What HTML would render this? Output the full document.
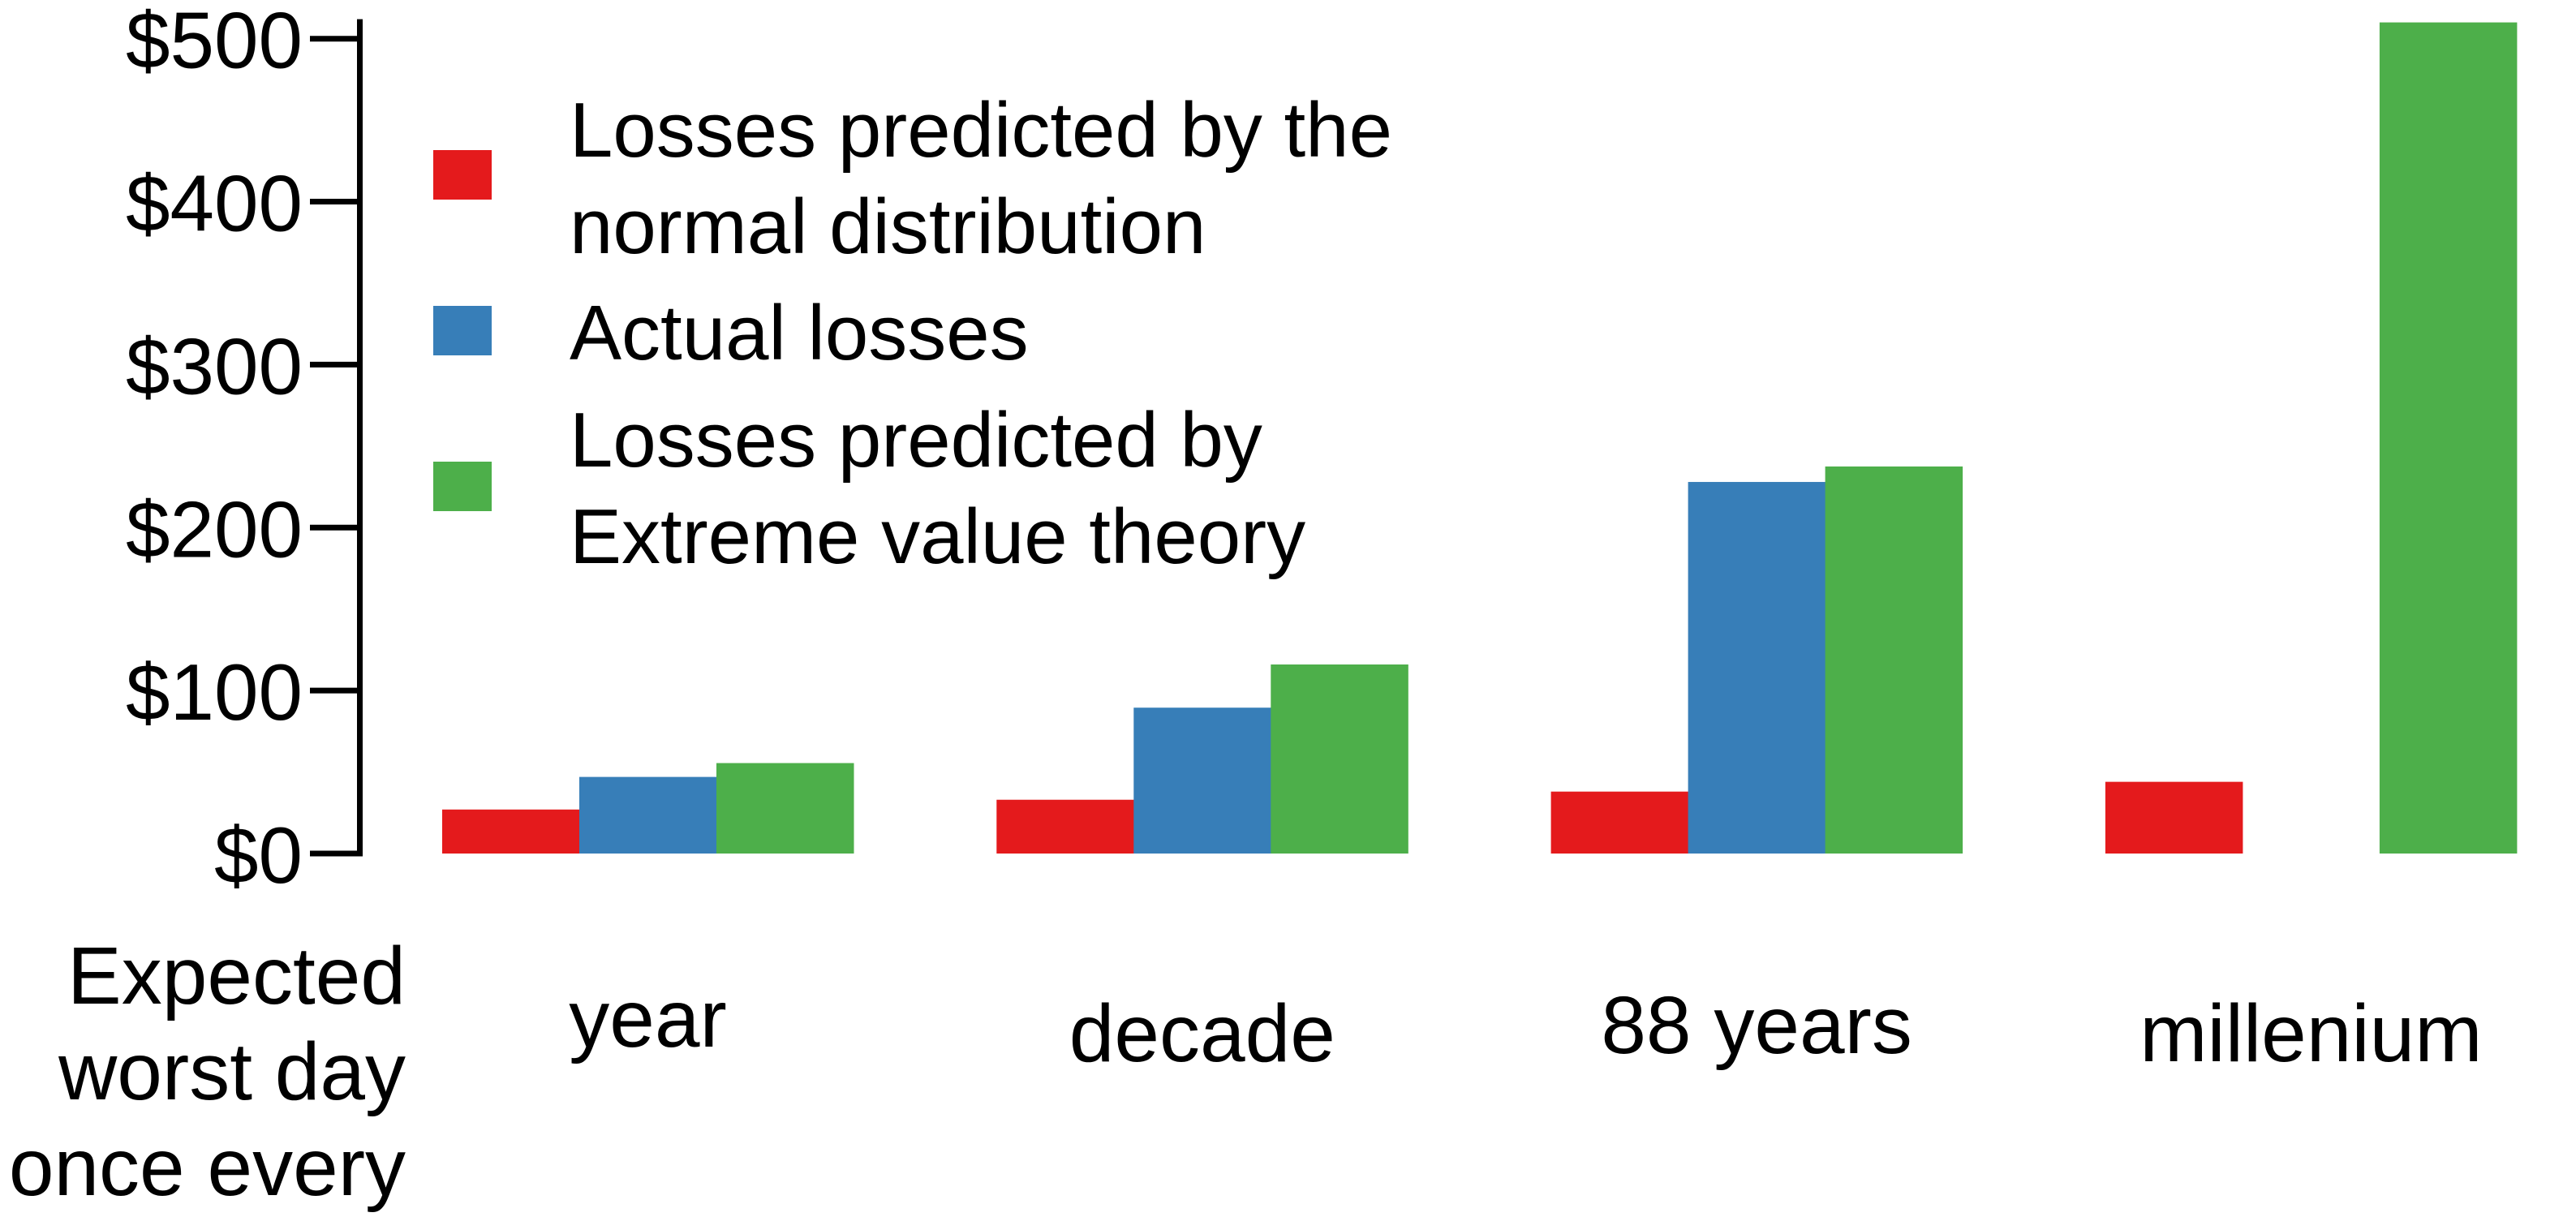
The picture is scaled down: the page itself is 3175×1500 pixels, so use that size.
<!DOCTYPE html>
<html><head><meta charset="utf-8"><style>
html,body{margin:0;padding:0;background:#fff;}
svg{display:block;font-family:"Liberation Sans",Arial,sans-serif;}
</style></head><body>
<svg id="chart" width="3175" height="1500" viewBox="0 0 3175 1500" xmlns="http://www.w3.org/2000/svg">
<g id="yaxis"></g>
<g id="bars"></g>
<g id="xlabels"></g>
<text font-size="100" text-anchor="end" fill="#000">
<tspan x="500" y="1237">Expected</tspan><tspan x="500" y="1355">worst day</tspan><tspan x="500" y="1473">once every</tspan>
</text>
<g>
<rect x="534" y="185" width="72" height="61" fill="#e41a1c"/>
<text font-size="96" fill="#000"><tspan x="702" y="193">Losses predicted by the</tspan><tspan x="702" y="312">normal distribution</tspan></text>
<rect x="534" y="377" width="72" height="61" fill="#377eb8"/>
<text font-size="96" fill="#000" x="702" y="443">Actual losses</text>
<rect x="534" y="569" width="72" height="61" fill="#4daf4a"/>
<text font-size="96" fill="#000"><tspan x="702" y="575">Losses predicted by</tspan><tspan x="702" y="694">Extreme value theory</tspan></text>
</g>
</svg>
<script>
const categories = ["year", "decade", "88 years", "millenium"];
const normalLosses = [27, 33, 38, 44];
const actualLosses = [47, 89.5, 228, null];
const evtLosses = [55.5, 116, 237.5, 510];
const yTicks = [0, 100, 200, 300, 400, 500];
const yTickLabels = ["$0", "$100", "$200", "$300", "$400", "$500"];

const NS = "http://www.w3.org/2000/svg";
const y0 = 1052, pxPerUnit = 2.0086;
function yScale(v){ return y0 - v * pxPerUnit; }
const groupStart = 545, groupStep = 683.3, barW = 169;
function xScale(i, s){ return groupStart + i * groupStep + s * barW; }
function mk(tag, attrs, parent){ const e = document.createElementNS(NS, tag); for (const k in attrs) e.setAttribute(k, attrs[k]); parent.appendChild(e); return e; }

const yaxis = document.getElementById("yaxis");
const axisLine = mk("line", {x1: 443.5, y1: yScale(512), x2: 443.5, y2: y0 + 3, stroke: "#000", "stroke-width": 7}, yaxis);


yTicks.forEach((t, i) => {
  const tk = mk("line", {x1: 382, y1: yScale(t), x2: 447, y2: yScale(t), stroke: "#000", "stroke-width": 7}, yaxis);
  
  
  const lb = mk("text", {x: 373, y: yScale(t) + 36, "font-size": 98, "text-anchor": "end", fill: "#000"}, yaxis);
  lb.textContent = yTickLabels[i];
  
  
});

const bars = document.getElementById("bars");
const series = [[normalLosses, "#e41a1c", "normal"], [actualLosses, "#377eb8", "actual"], [evtLosses, "#4daf4a", "evt"]];
series.forEach(([vals, color, nm], s) => {
  vals.forEach((v, i) => {
    if (v === null || v === undefined) return;
    const r = mk("rect", {x: xScale(i, s), y: yScale(v), width: barW + 0.5, height: y0 - yScale(v), fill: color}, bars);
    
    
  });
});

const xl = document.getElementById("xlabels");
const labelBaselines = [1290, 1308, 1298, 1308];
categories.forEach((c, i) => {
  const t = mk("text", {x: xScale(i, 1.5), y: labelBaselines[i], "font-size": 100, "text-anchor": "middle", fill: "#000"}, xl);
  t.textContent = c;
  
  
});
</script>
</body></html>
